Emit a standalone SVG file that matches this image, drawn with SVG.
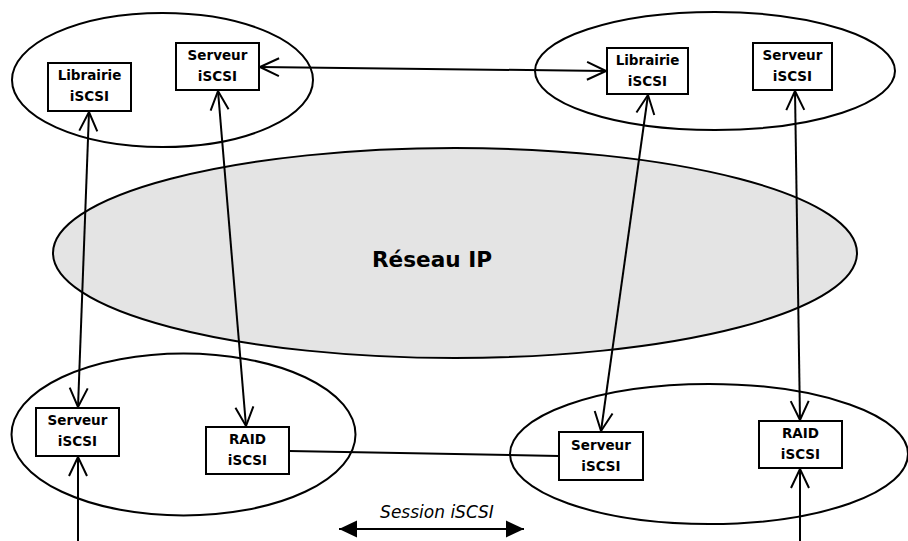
<svg xmlns="http://www.w3.org/2000/svg" width="908" height="541" viewBox="0 0 908 541">
  <style>
    .zone { fill: none; stroke: #000; stroke-width: 2; }
    .net { fill: #e4e4e4; stroke: #000; stroke-width: 2; }
    .box { fill: #fff; stroke: #000; stroke-width: 2; }
    .lbl { font-family: "DejaVu Sans", "Liberation Sans", sans-serif; font-weight: bold; font-size: 13.5px; text-anchor: middle; fill: #000; }
    .net-lbl { font-family: "DejaVu Sans", "Liberation Sans", sans-serif; font-weight: bold; font-size: 21.6px; text-anchor: middle; fill: #000; }
    .legend { font-family: "DejaVu Sans", "Liberation Sans", sans-serif; font-style: italic; font-size: 17px; text-anchor: middle; fill: #000; }
    .link { fill: none; stroke: #000; stroke-width: 2; }
    .both { marker-start: url(#open); marker-end: url(#open); }
  </style>
  <defs>
    <marker id="open" markerUnits="userSpaceOnUse" viewBox="-22 -11 24 22" refX="0" refY="0" markerWidth="24" markerHeight="22" orient="auto-start-reverse">
      <path d="M-19,-9 L0,0 L-19,9" fill="none" stroke="#000" stroke-width="2"/>
    </marker>
    <marker id="solid" markerUnits="userSpaceOnUse" viewBox="-19 -9 20 18" refX="0" refY="0" markerWidth="20" markerHeight="18" orient="auto-start-reverse">
      <path d="M-18,-8.5 L0,0 L-18,8.5 Z" fill="#000"/>
    </marker>
  </defs>

  <!-- sites and IP network -->
  <g id="zones">
    <ellipse id="site-top-left" class="zone" cx="162.5" cy="80" rx="150.5" ry="67"/>
    <ellipse id="site-top-right" class="zone" cx="715" cy="71" rx="180" ry="59"/>
    <g id="reseau-ip">
      <ellipse class="net" cx="455" cy="253" rx="402" ry="105"/>
      <text class="net-lbl" x="432" y="267">Réseau IP</text>
    </g>
    <ellipse id="site-bottom-left" class="zone" cx="183.5" cy="434.5" rx="172" ry="81"/>
    <ellipse id="site-bottom-right" class="zone" cx="709" cy="454" rx="199" ry="70"/>
  </g>

  <!-- connectors -->
  <g id="connectors">
    <line class="link both" x1="260" y1="67" x2="606" y2="71"/>
    <line class="link both" x1="89" y1="112" x2="78" y2="407"/>
    <line class="link both" x1="218" y1="91" x2="246" y2="426"/>
    <line class="link both" x1="648" y1="95" x2="601" y2="431"/>
    <line class="link both" x1="795" y1="91" x2="800" y2="420"/>
    <line class="link" x1="78" y1="541" x2="78" y2="457" marker-end="url(#open)"/>
    <line class="link" x1="800" y1="541" x2="800" y2="469" marker-end="url(#open)"/>
    <line class="link" x1="289" y1="451" x2="559" y2="456"/>
  </g>

  <!-- nodes -->
  <g id="librairie-tl">
    <rect class="box" x="48" y="63" width="83" height="48"/>
    <text class="lbl" x="89.5" y="80">Librairie</text>
    <text class="lbl" x="89.5" y="101">iSCSI</text>
  </g>
  <g id="serveur-tl">
    <rect class="box" x="176" y="43" width="83" height="47"/>
    <text class="lbl" x="217.5" y="60">Serveur</text>
    <text class="lbl" x="217.5" y="81">iSCSI</text>
  </g>
  <g id="librairie-tr">
    <rect class="box" x="607" y="48" width="81" height="46"/>
    <text class="lbl" x="647.5" y="65">Librairie</text>
    <text class="lbl" x="647.5" y="86">iSCSI</text>
  </g>
  <g id="serveur-tr">
    <rect class="box" x="753" y="43" width="79" height="47"/>
    <text class="lbl" x="792.5" y="60">Serveur</text>
    <text class="lbl" x="792.5" y="81">iSCSI</text>
  </g>
  <g id="serveur-bl">
    <rect class="box" x="36" y="408" width="83" height="48"/>
    <text class="lbl" x="77.5" y="425">Serveur</text>
    <text class="lbl" x="77.5" y="446">iSCSI</text>
  </g>
  <g id="raid-bl">
    <rect class="box" x="206" y="427" width="83" height="47"/>
    <text class="lbl" x="247.5" y="444">RAID</text>
    <text class="lbl" x="247.5" y="465">iSCSI</text>
  </g>
  <g id="serveur-br">
    <rect class="box" x="559" y="432" width="84" height="48"/>
    <text class="lbl" x="601" y="450">Serveur</text>
    <text class="lbl" x="601" y="471">iSCSI</text>
  </g>
  <g id="raid-br">
    <rect class="box" x="759" y="421" width="83" height="47"/>
    <text class="lbl" x="800.5" y="438">RAID</text>
    <text class="lbl" x="800.5" y="459">iSCSI</text>
  </g>

  <!-- legend -->
  <g id="legend">
    <text class="legend" x="437" y="518">Session iSCSI</text>
    <line class="link" x1="339" y1="529" x2="524" y2="529" stroke-width="2.5" marker-start="url(#solid)" marker-end="url(#solid)"/>
  </g>
</svg>
